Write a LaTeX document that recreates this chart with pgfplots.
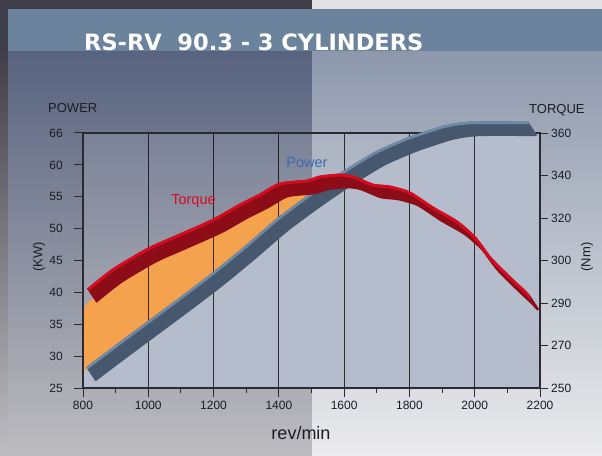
\documentclass[border=0pt]{standalone}
\usepackage{pgfplots}
\pgfplotsset{compat=1.18}
\usepackage{pgfplotstable}
\usepackage{fontspec}
\setmainfont{Liberation Sans}
\newfontfamily\titlefont{DejaVu Sans}
\definecolor{frame}{HTML}{403E48}
\definecolor{topstrip}{HTML}{E2E2E4}
\definecolor{titleband}{HTML}{6B839D}
\definecolor{lefttop}{HTML}{58637F}
\definecolor{leftmid}{HTML}{7A8095}
\definecolor{leftbot}{HTML}{BDBCC0}
\definecolor{righttop}{HTML}{8D98AC}
\definecolor{rightmid}{HTML}{BCC1CC}
\definecolor{rightbot}{HTML}{EBEBED}
\definecolor{plotfill}{HTML}{B5BCCB}
\definecolor{orangefill}{HTML}{F5A24F}
\definecolor{torquedark}{HTML}{8C0D18}
\definecolor{torquetop}{HTML}{D60A20}
\definecolor{powerdark}{HTML}{47586E}
\definecolor{powertop}{HTML}{6E8AA6}
\definecolor{labelc}{HTML}{1C1C24}
\definecolor{axisc}{HTML}{2A2A30}

% power in kW (left scale), torque in Nm (right scale)
\pgfplotstableread{
rpm P
812 28.1
900 31.5
1000 35.3
1100 39.1
1200 43.0
1300 47.2
1400 51.6
1500 55.4
1600 58.9
1700 62.0
1800 64.2
1900 65.9
1950 66.4
2000 66.6
2165 66.6
}\powertab

\pgfplotstableread{
rpm T
815 293.1
892 297.8
1000 305.4
1097 312.0
1200 319.1
1281 326.1
1342 330.8
1403 336.0
1486 337.4
1526 339.3
1587 340.2
1627 339.3
1688 335.5
1740 334.6
1801 331.8
1872 324.7
1946 318.1
2001 310.6
2047 301.2
2108 295.9
2154 292.6
2170 291.2
}\torquetab

\begin{document}
\begin{tikzpicture}[x=1pt,y=1pt]
% background
\fill[frame] (0,0) rectangle (602,455);
\fill[topstrip] (312,446) rectangle (602,455);
\shade[top color=frame, bottom color=leftbot] (0,0) rectangle (8,404);
\shade[top color=lefttop, middle color=leftmid, bottom color=leftbot] (8,0) rectangle (312,404);
\shade[top color=righttop, middle color=rightmid, bottom color=rightbot] (312,0) rectangle (602,404);
\fill[titleband] (8,404) rectangle (602,446);
\node[anchor=base west, inner sep=0pt, text=white, font=\titlefont\bfseries\fontsize{22.5}{26}\selectfont] at (84,404) {RS-RV\ \ 90.3 - 3 CYLINDERS};

\begin{axis}[
  at={(83pt,67pt)}, anchor=south west, scale only axis,
  width=457pt, height=255pt,
  xmin=800, xmax=2200, ymin=25, ymax=65,
  clip=false,
  xtick={800,1000,1200,1400,1600,1800,2000,2200},
  xticklabels={800,1000,1200,1400,1600,1800,2000,2200},
  minor xtick={900,1100,1300,1500,1700,1900,2100},
  ytick={25,30,35,40,45,50,55,60,65},
  yticklabels={25,30,35,40,45,50,55,60,66},
  xtick pos=bottom, ytick pos=left, tick align=outside,
  major tick length=9pt, minor tick length=5pt,
  every tick/.style={draw=axisc, line width=1pt},
  axis line style={draw=axisc, line width=1.3pt},
  axis background/.style={fill=white, fill opacity=0.1},
  tick label style={font=\fontsize{12}{14}\selectfont, text=labelc},
  yticklabel style={anchor=east, inner sep=0pt, xshift=-11pt},
  xticklabel style={anchor=north, inner sep=0pt, yshift=-4pt},
]
% light area under the power curve
\addplot[fill=plotfill, draw=none] coordinates {
 (800,25) (800,27.6) (812,28.1) (900,31.5) (1000,35.3) (1100,39.1) (1200,43.0)
 (1300,47.2) (1400,51.6) (1500,55.4) (1600,58.9) (1700,62.0) (1800,64.2)
 (1850,65) (2200,65) (2200,25)} -- cycle;
% orange area between torque and power
\addplot[fill=orangefill, draw=none] coordinates {
 (800,37.24) (815,38.49) (916,41.63) (1024,44.92) (1122,47.12) (1226,49.47)
 (1305,51.82) (1367,53.39) (1428,55.12) (1502,55.5)
 (1500,55.4) (1400,51.6) (1300,47.2) (1200,43.0) (1100,39.1) (1000,35.3)
 (900,31.5) (812,28.1) (800,27.6)} -- cycle;
% grid lines
\pgfplotsinvokeforeach{1000,1200,1400,1600,1800,2000}{
  \draw[black, draw opacity=0.75, line width=0.9pt] (axis cs:#1,25) -- (axis cs:#1,65);
}
\draw[axisc, line width=1.3pt] (rel axis cs:0,0) rectangle (rel axis cs:1,1);
% power ribbon
\pgfplotsinvokeforeach{0,...,8}{
  \addplot[draw=powerdark, line width=2.5pt, smooth, tension=0.4, xshift={#1*1pt}, yshift={-#1*1.5pt}]
    table[x=rpm, y=P] {\powertab};
}
\addplot[draw=powertop, line width=2.6pt, smooth, tension=0.4] table[x=rpm, y=P] {\powertab};
% torque ribbon
\pgfplotsinvokeforeach{0,...,8}{
  \addplot[draw=torquedark, line width=2.5pt, smooth, tension=0.4, xshift={#1*1pt}, yshift={-#1*1.5pt}]
    table[x=rpm, y expr={25+20/3*ifthenelse(\thisrow{T}>=300, 3+(\thisrow{T}-300)/20, 2+(\thisrow{T}-290)/10)}] {\torquetab};
}
\addplot[draw=torquetop, line width=3pt, smooth, tension=0.4]
  table[x=rpm, y expr={25+20/3*ifthenelse(\thisrow{T}>=300, 3+(\thisrow{T}-300)/20, 2+(\thisrow{T}-290)/10)}] {\torquetab};
\end{axis}

\begin{axis}[
  at={(83pt,67pt)}, anchor=south west, scale only axis,
  width=457pt, height=255pt,
  xmin=800, xmax=2200, ymin=0, ymax=6,
  axis x line=none, axis y line*=right,
  ytick={0,1,2,3,4,5,6},
  yticklabels={250,270,290,300,320,340,360},
  tick align=outside, major tick length=8pt,
  every tick/.style={draw=axisc, line width=1pt},
  axis line style={draw=axisc, line width=1.3pt},
  tick label style={font=\fontsize{12}{14}\selectfont, text=labelc},
  yticklabel style={anchor=west, inner sep=0pt, xshift=3pt},
]
\end{axis}

% labels
\node[anchor=base west, inner sep=0pt, text=labelc, font=\fontsize{13}{15}\selectfont] at (48,342) {POWER};
\node[anchor=base west, inner sep=0pt, text=labelc, font=\fontsize{13}{15}\selectfont] at (529,341) {TORQUE};
\node[rotate=90, inner sep=0pt, text=labelc, font=\fontsize{13}{15}\selectfont] at (39,198) {(KW)};
\node[rotate=90, inner sep=0pt, text=labelc, font=\fontsize{13}{15}\selectfont] at (587,198) {(Nm)};
\node[inner sep=0pt, text=labelc, font=\fontsize{18}{20}\selectfont] at (301,22) {rev/min};
\node[inner sep=0pt, text=torquetop, font=\fontsize{14.5}{16}\selectfont] at (193.5,254.3) {Torque};
\node[inner sep=0pt, text={rgb,255:red,58;green,106;blue,176}, font=\fontsize{14.5}{16}\selectfont] at (307,292) {Power};

\pgfresetboundingbox
\path[use as bounding box] (0,0) rectangle (602,455);
\end{tikzpicture}
\end{document}
